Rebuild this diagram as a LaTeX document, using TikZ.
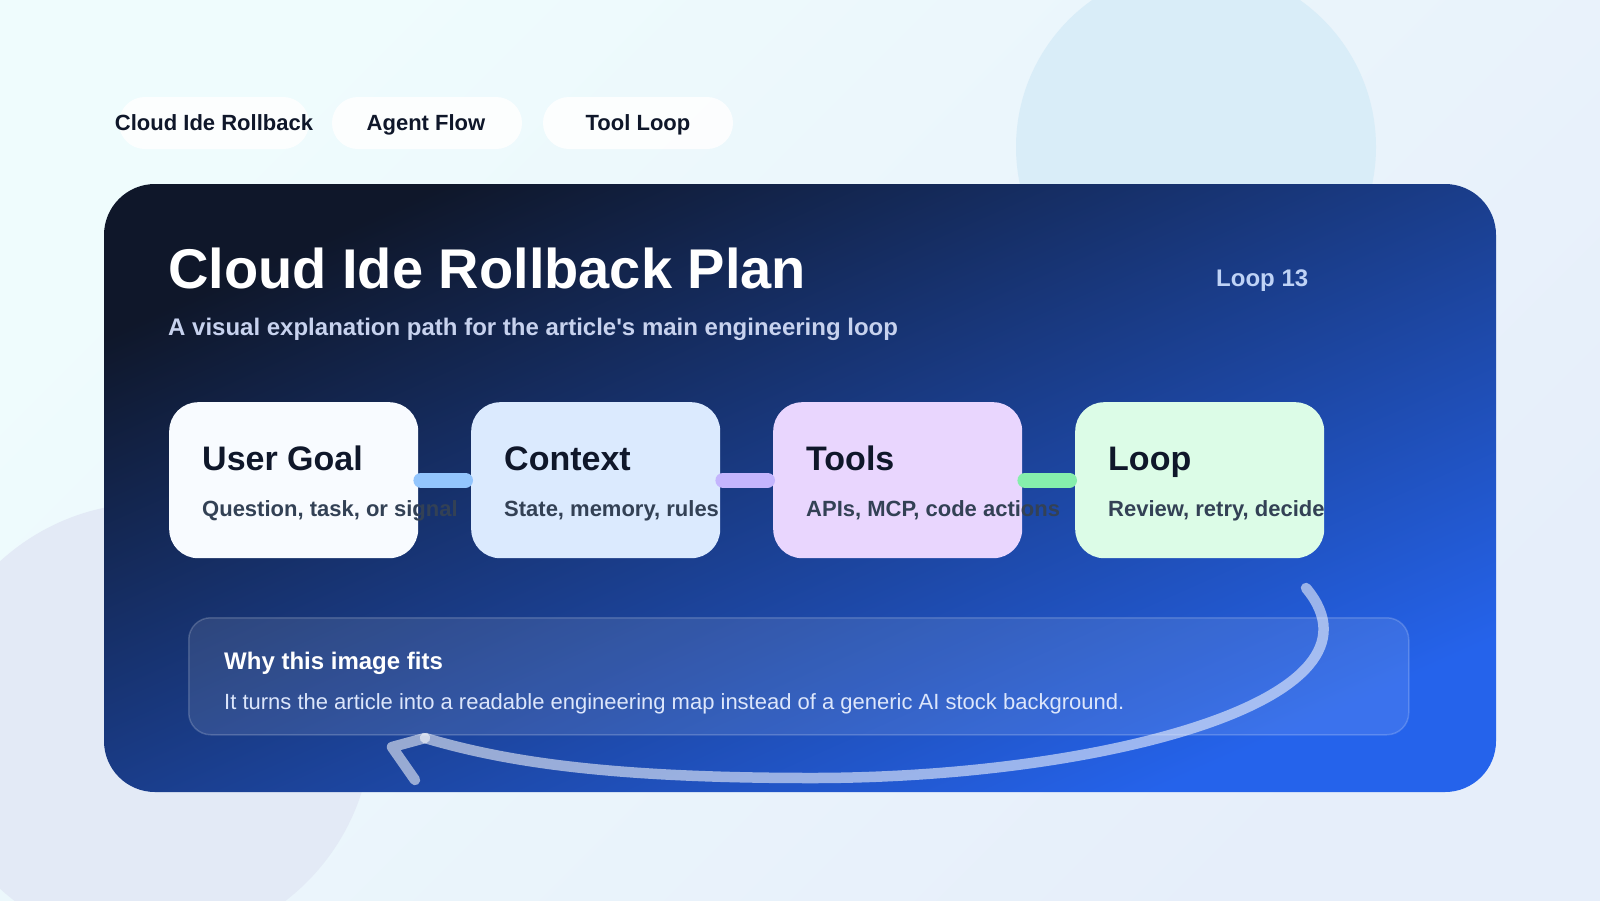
\documentclass[tikz,border=0pt]{standalone}
\usepackage{fontspec}
\setmainfont{Liberation Sans}[Ligatures=TeXOff]
\usetikzlibrary{calc}
\definecolor{bgtl}{HTML}{EFFCFD}
\definecolor{bgbr}{HTML}{E6EEFA}
\definecolor{circtr}{HTML}{D9EDF8}
\definecolor{circbl}{HTML}{E3EAF6}
\definecolor{paneltl}{HTML}{0F172A}
\definecolor{panelmid}{HTML}{1E3C8C}
\definecolor{panelbr}{HTML}{2563EB}
\definecolor{cardA}{HTML}{F8FBFF}
\definecolor{cardB}{HTML}{DBEAFE}
\definecolor{cardC}{HTML}{E9D6FE}
\definecolor{cardD}{HTML}{DCFCE7}
\definecolor{barA}{HTML}{93C5FD}
\definecolor{barB}{HTML}{C4B5FD}
\definecolor{barC}{HTML}{86EFAC}
\definecolor{ink}{HTML}{0F172A}
\definecolor{inksub}{HTML}{334155}
\definecolor{subtle}{HTML}{C7D2EE}
\definecolor{loopcol}{HTML}{BFD3F6}
\definecolor{bodycol}{HTML}{DCE6FB}
\begin{document}
\begin{tikzpicture}[x=1pt,y=-1pt,
  pill/.style={fill=white, fill opacity=0.85, rounded corners=26pt, minimum width=190pt, minimum height=52pt, inner sep=0pt},
  tab/.style={anchor=base, inner sep=0pt, font=\fontsize{22}{26}\selectfont\bfseries, text=ink},
  card/.style={anchor=north west, minimum width=249pt, minimum height=156pt, rounded corners=29pt, inner sep=0pt},
  ctitle/.style={anchor=base west, inner sep=0pt, font=\fontsize{34}{40}\selectfont\bfseries, text=ink},
  csub/.style={anchor=base west, inner sep=0pt, font=\fontsize{22}{26}\selectfont\bfseries, text=inksub},
  bar/.style={line width=15pt, line cap=round, shorten <=2.5pt, shorten >=5.5pt},
  arrowline/.style={draw=white, draw opacity=0.55, line width=10.5pt, line cap=round, line join=round},
  plain/.style={anchor=base west, inner sep=0pt}
]
\useasboundingbox (0,0) rectangle (1600,900);
% background
\shade[top color=bgtl, bottom color=bgbr, shading angle=45] (0,0) rectangle (1600,900);
\fill[circtr] (1196,147) circle[radius=180pt];
\fill[circbl] (150,725) circle[radius=222pt];

% tabs
\node[pill] (p1) at (214,123) {};
\node[pill] (p2) at (427,123) {};
\node[pill] (p3) at (638,123) {};
\node[tab] (t1) at (214,130) {Cloud Ide Rollback};
\node[tab] (t2) at (426,130) {Agent Flow};
\node[tab] (t3) at (638,130) {Tool Loop};

% panel
\shade[rounded corners=51pt, top color=paneltl, middle color=panelmid, bottom color=panelbr, shading angle=24] (104,184) rectangle (1496,792);

\node[plain, font=\fontsize{56}{60}\selectfont\bfseries, text=white] (title) at (168,288) {Cloud Ide Rollback Plan};
\node[plain, font=\fontsize{24}{28}\selectfont\bfseries, text=subtle] (subtitle) at (168,335) {A visual explanation path for the article's main engineering loop};
\node[plain, font=\fontsize{24}{28}\selectfont\bfseries, text=loopcol] (loopn) at (1216,286) {Loop 13};

% cards
\node[card, fill=cardA] (c1) at (169,402) {};
\node[card, fill=cardB] (c2) at (471,402) {};
\node[card, fill=cardC] (c3) at (773,402) {};
\node[card, fill=cardD] (c4) at (1075,402) {};

\foreach \c/\t/\s in {c1/User Goal/{Question, task, or signal}, c2/Context/{State, memory, rules}, c3/Tools/{APIs, MCP, code actions}, c4/Loop/{Review, retry, decide}}{
  \node[ctitle] (\c t) at ($(\c.north west)+(33,68)$) {\t};
  \node[csub] (\c s) at ($(\c.north west)+(33,114)$) {\s};
}

\draw[bar, barA] (c1.east) -- (c2.west);
\draw[bar, barB] (c2.east) -- (c3.west);
\draw[bar, barC] (c3.east) -- (c4.west);

% note
\node[anchor=north west, minimum width=1220pt, minimum height=117pt, rounded corners=22pt, fill=white, fill opacity=0.10, draw=white, draw opacity=0.18, line width=1.5pt, inner sep=0pt] (note) at (188,617) {};
\node[plain, font=\fontsize{24}{28}\selectfont\bfseries, text=white] (why) at (224,669) {Why this image fits};
\node[plain, font=\fontsize{22}{26}\selectfont, text=bodycol] (body) at (224,709) {It turns the article into a readable engineering map instead of a generic AI stock background.};

% loop-back arrow
\coordinate (arrS) at (1306,588);
\coordinate (arrB) at (812,778);
\coordinate (arrE) at (425,738);
\coordinate (arrK) at (392,747);
\coordinate (arrT) at (415,780);
\draw[arrowline] (arrS) .. controls (1400,700) and (1100,778) .. (arrB) .. controls (600,778) and (500,760) .. (arrE);
\draw[arrowline] (arrE) -- (arrK) -- (arrT);
\end{tikzpicture}
\end{document}
